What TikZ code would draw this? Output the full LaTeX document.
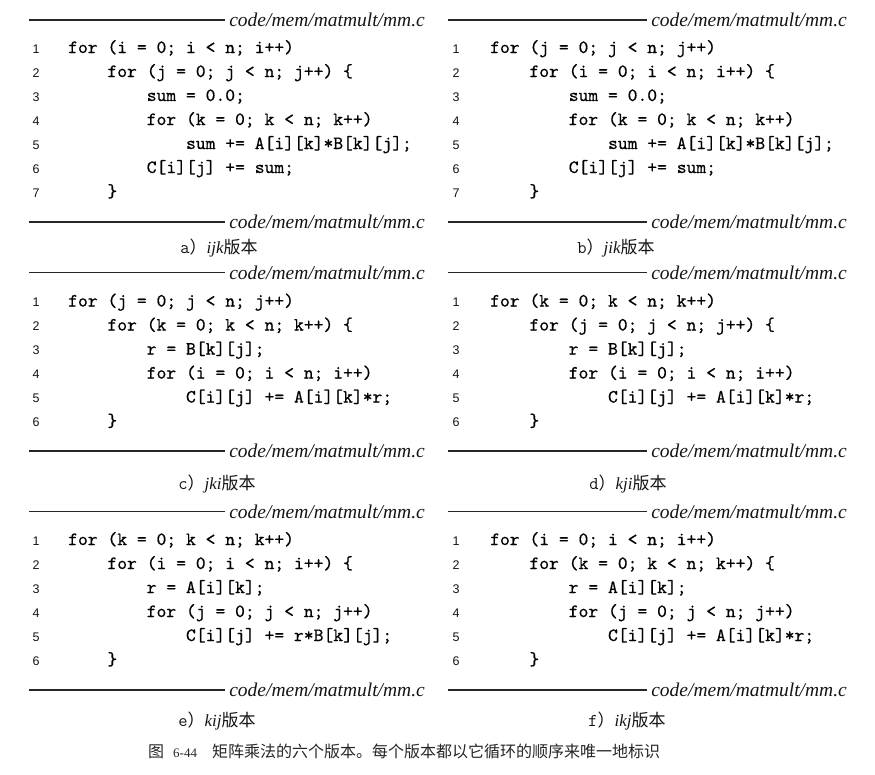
\documentclass[tikz,border=0pt]{standalone}
\usepackage{fontspec}
\setmainfont{Liberation Serif}
\setsansfont{Liberation Sans}
\newfontfamily\cjk{Noto Sans CJK SC}
\newfontfamily\codefam{lmmono10-regular.otf}[FakeBold=0.55]
\newcommand\codefont{\codefam\fontsize{18.7}{20}\selectfont}
\newcommand\numfont{\sffamily\fontsize{12.5}{14}\selectfont}
\newcommand\pathfont{\rmfamily\itshape\fontsize{19.5}{21}\selectfont}
\newcommand\subfont{\fontsize{17}{19}\selectfont}
\newcommand\figfont{\fontsize{16}{18}\selectfont}
\newcommand\codeln[5]{\node[codetxt] (#1) at ({#2+9.82*#3},#4) {#5};}
\newcommand\numln[4]{\node[lnum] (#1) at (#2,#3) {#4};}
\newcommand\subcaption[3]{{\ttfamily\fontsize{18}{19}\selectfont #1}{\cjk ）}{\itshape #2}{\cjk 版本}}
\tikzset{
  codetxt/.style={anchor=base west, inner sep=0pt, font=\codefont, text=black},
  lnum/.style={anchor=base, inner sep=0pt, font=\numfont, text=black!92},
  pathtxt/.style={anchor=base east, inner sep=0pt, font=\pathfont, text=black!92},
  rulel/.style={line width=1.1pt, draw=black!85, shorten >=4pt},
  subcap/.style={anchor=base, inner sep=0pt, font=\subfont, text=black!92},
}
\begin{document}
\begin{tikzpicture}[x=1pt,y=-1pt]
\useasboundingbox (0,0) rectangle (875,774);

% ---------------- panel a ----------------
\node[pathtxt] (pa1) at (425,26.5) {code/mem/matmult/mm.c};
\coordinate (ra1) at (29,20);
\draw[rulel] (ra1) -- (ra1 -| pa1.west);
\numln{na1}{36}{53}{1}\codeln{ca1}{68}{0}{53}{for (i = 0; i < n; i++)}
\numln{na2}{36}{77}{2}\codeln{ca2}{68}{4}{77}{for (j = 0; j < n; j++) \{}
\numln{na3}{36}{101}{3}\codeln{ca3}{68}{8}{101}{sum = 0.0;}
\numln{na4}{36}{125}{4}\codeln{ca4}{68}{8}{125}{for (k = 0; k < n; k++)}
\numln{na5}{36}{149}{5}\codeln{ca5}{68}{12}{149}{sum += A[i][k]*B[k][j];}
\numln{na6}{36}{173}{6}\codeln{ca6}{68}{8}{173}{C[i][j] += sum;}
\numln{na7}{36}{197}{7}\codeln{ca7}{68}{4}{197}{\}}
\node[pathtxt] (pa2) at (425,228.5) {code/mem/matmult/mm.c};
\coordinate (ra2) at (29,222);
\draw[rulel] (ra2) -- (ra2 -| pa2.west);
\node[subcap] (sa) at (219,253) {\subcaption{a}{ijk}{}};

% ---------------- panel b ----------------
\node[pathtxt] (pb1) at (847,26.5) {code/mem/matmult/mm.c};
\coordinate (rb1) at (448,20);
\draw[rulel] (rb1) -- (rb1 -| pb1.west);
\numln{nb1}{456}{53}{1}\codeln{cb1}{490}{0}{53}{for (j = 0; j < n; j++)}
\numln{nb2}{456}{77}{2}\codeln{cb2}{490}{4}{77}{for (i = 0; i < n; i++) \{}
\numln{nb3}{456}{101}{3}\codeln{cb3}{490}{8}{101}{sum = 0.0;}
\numln{nb4}{456}{125}{4}\codeln{cb4}{490}{8}{125}{for (k = 0; k < n; k++)}
\numln{nb5}{456}{149}{5}\codeln{cb5}{490}{12}{149}{sum += A[i][k]*B[k][j];}
\numln{nb6}{456}{173}{6}\codeln{cb6}{490}{8}{173}{C[i][j] += sum;}
\numln{nb7}{456}{197}{7}\codeln{cb7}{490}{4}{197}{\}}
\node[pathtxt] (pb2) at (847,228.5) {code/mem/matmult/mm.c};
\coordinate (rb2) at (448,222);
\draw[rulel] (rb2) -- (rb2 -| pb2.west);
\node[subcap] (sb) at (616,253) {\subcaption{b}{jik}{}};

% ---------------- panel c ----------------
\node[pathtxt] (pc1) at (425,279) {code/mem/matmult/mm.c};
\coordinate (rc1) at (29,272.5);
\draw[rulel] (rc1) -- (rc1 -| pc1.west);
\numln{nc1}{36}{306.5}{1}\codeln{cc1}{68}{0}{306.5}{for (j = 0; j < n; j++)}
\numln{nc2}{36}{330.5}{2}\codeln{cc2}{68}{4}{330.5}{for (k = 0; k < n; k++) \{}
\numln{nc3}{36}{354.5}{3}\codeln{cc3}{68}{8}{354.5}{r = B[k][j];}
\numln{nc4}{36}{378.5}{4}\codeln{cc4}{68}{8}{378.5}{for (i = 0; i < n; i++)}
\numln{nc5}{36}{402.5}{5}\codeln{cc5}{68}{12}{402.5}{C[i][j] += A[i][k]*r;}
\numln{nc6}{36}{426.5}{6}\codeln{cc6}{68}{4}{426.5}{\}}
\node[pathtxt] (pc2) at (425,457.5) {code/mem/matmult/mm.c};
\coordinate (rc2) at (29,451);
\draw[rulel] (rc2) -- (rc2 -| pc2.west);
\node[subcap] (sc) at (217,489) {\subcaption{c}{jki}{}};

% ---------------- panel d ----------------
\node[pathtxt] (pd1) at (847,279) {code/mem/matmult/mm.c};
\coordinate (rd1) at (448,272.5);
\draw[rulel] (rd1) -- (rd1 -| pd1.west);
\numln{nd1}{456}{306.5}{1}\codeln{cd1}{490}{0}{306.5}{for (k = 0; k < n; k++)}
\numln{nd2}{456}{330.5}{2}\codeln{cd2}{490}{4}{330.5}{for (j = 0; j < n; j++) \{}
\numln{nd3}{456}{354.5}{3}\codeln{cd3}{490}{8}{354.5}{r = B[k][j];}
\numln{nd4}{456}{378.5}{4}\codeln{cd4}{490}{8}{378.5}{for (i = 0; i < n; i++)}
\numln{nd5}{456}{402.5}{5}\codeln{cd5}{490}{12}{402.5}{C[i][j] += A[i][k]*r;}
\numln{nd6}{456}{426.5}{6}\codeln{cd6}{490}{4}{426.5}{\}}
\node[pathtxt] (pd2) at (847,457.5) {code/mem/matmult/mm.c};
\coordinate (rd2) at (448,451);
\draw[rulel] (rd2) -- (rd2 -| pd2.west);
\node[subcap] (sd) at (628,489) {\subcaption{d}{kji}{}};

% ---------------- panel e ----------------
\node[pathtxt] (pe1) at (425,518) {code/mem/matmult/mm.c};
\coordinate (re1) at (29,511.5);
\draw[rulel] (re1) -- (re1 -| pe1.west);
\numln{ne1}{36}{545}{1}\codeln{ce1}{68}{0}{545}{for (k = 0; k < n; k++)}
\numln{ne2}{36}{569}{2}\codeln{ce2}{68}{4}{569}{for (i = 0; i < n; i++) \{}
\numln{ne3}{36}{593}{3}\codeln{ce3}{68}{8}{593}{r = A[i][k];}
\numln{ne4}{36}{617}{4}\codeln{ce4}{68}{8}{617}{for (j = 0; j < n; j++)}
\numln{ne5}{36}{641}{5}\codeln{ce5}{68}{12}{641}{C[i][j] += r*B[k][j];}
\numln{ne6}{36}{665}{6}\codeln{ce6}{68}{4}{665}{\}}
\node[pathtxt] (pe2) at (425,696.5) {code/mem/matmult/mm.c};
\coordinate (re2) at (29,690);
\draw[rulel] (re2) -- (re2 -| pe2.west);
\node[subcap] (se) at (217,726) {\subcaption{e}{kij}{}};

% ---------------- panel f ----------------
\node[pathtxt] (pf1) at (847,518) {code/mem/matmult/mm.c};
\coordinate (rf1) at (448,511.5);
\draw[rulel] (rf1) -- (rf1 -| pf1.west);
\numln{nf1}{456}{545}{1}\codeln{cf1}{490}{0}{545}{for (i = 0; i < n; i++)}
\numln{nf2}{456}{569}{2}\codeln{cf2}{490}{4}{569}{for (k = 0; k < n; k++) \{}
\numln{nf3}{456}{593}{3}\codeln{cf3}{490}{8}{593}{r = A[i][k];}
\numln{nf4}{456}{617}{4}\codeln{cf4}{490}{8}{617}{for (j = 0; j < n; j++)}
\numln{nf5}{456}{641}{5}\codeln{cf5}{490}{12}{641}{C[i][j] += A[i][k]*r;}
\numln{nf6}{456}{665}{6}\codeln{cf6}{490}{4}{665}{\}}
\node[pathtxt] (pf2) at (847,696.5) {code/mem/matmult/mm.c};
\coordinate (rf2) at (448,690);
\draw[rulel] (rf2) -- (rf2 -| pf2.west);
\node[subcap] (sf) at (627,726) {\subcaption{f}{ikj}{}};

% ---------------- figure caption ----------------
\node[anchor=base west, inner sep=0pt, font=\figfont, text=black!85] (figcap) at (148,757)
  {{\cjk 图}\hspace{9pt}{\rmfamily\fontsize{13}{15}\selectfont 6-44}\hspace{15pt}{\cjk 矩阵乘法的六个版本。每个版本都以它循环的顺序来唯一地标识}};
\end{tikzpicture}
\end{document}
